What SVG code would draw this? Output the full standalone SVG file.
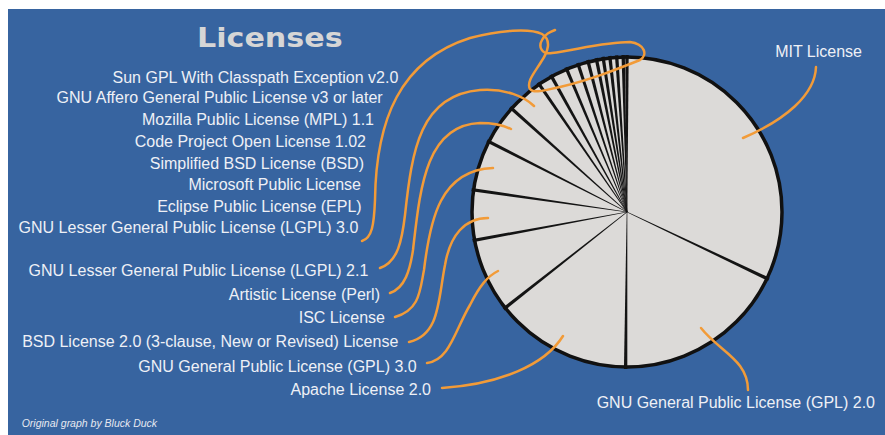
<svg xmlns="http://www.w3.org/2000/svg" xmlns:xlink="http://www.w3.org/1999/xlink" width="885" height="435" viewBox="0 0 885 435">
<style>
.lbl{font-family:"Liberation Sans",Arial,sans-serif;font-size:16px;fill:#eef0f6;text-anchor:end}
.lead{fill:none;stroke:#f29b38;stroke-width:2.5;stroke-linecap:round;stroke-linejoin:round}
.div{fill:#141414}
</style>
<defs>
<polygon id="dv" points="-0.3,0 0.3,0 1.7,-157 -1.7,-157"/>
</defs>
<rect x="0" y="0" width="885" height="435" fill="#ffffff"/>
<rect x="8" y="9" width="877" height="426" fill="#3764a0"/>
<text transform="translate(197,47.3) scale(1.16,1)" x="0" y="0" font-family="DejaVu Sans,sans-serif" font-weight="bold" font-size="26" fill="#d6d6d6">Licenses</text>
<g id="pie">
<circle cx="627" cy="212" r="155" fill="#dcdad8"/>
<g class="div">
<use xlink:href="#dv" transform="translate(627,212) rotate(0)"/>
<use xlink:href="#dv" transform="translate(627,212) rotate(115.4)"/>
<use xlink:href="#dv" transform="translate(627,212) rotate(180.5)"/>
<use xlink:href="#dv" transform="translate(627,212) rotate(231.8)"/>
<use xlink:href="#dv" transform="translate(627,212) rotate(259.5)"/>
<use xlink:href="#dv" transform="translate(627,212) rotate(278.2)"/>
<use xlink:href="#dv" transform="translate(627,212) rotate(297)"/>
<use xlink:href="#dv" transform="translate(627,212) rotate(311.9)"/>
<use xlink:href="#dv" transform="translate(627,212) rotate(325.5)"/>
<use xlink:href="#dv" transform="translate(627,212) rotate(330.9)"/>
<use xlink:href="#dv" transform="translate(627,212) rotate(337.1)"/>
<use xlink:href="#dv" transform="translate(627,212) rotate(341.7)"/>
<use xlink:href="#dv" transform="translate(627,212) rotate(345.5)"/>
<use xlink:href="#dv" transform="translate(627,212) rotate(348.7)"/>
<use xlink:href="#dv" transform="translate(627,212) rotate(351.2)"/>
<use xlink:href="#dv" transform="translate(627,212) rotate(353.7)"/>
<use xlink:href="#dv" transform="translate(627,212) rotate(356.2)"/>
<use xlink:href="#dv" transform="translate(627,212) rotate(358.6)"/>
</g>
<circle cx="627" cy="212" r="155" fill="none" stroke="#111" stroke-width="3.5"/>
</g>
<g id="connectors">
<path class="lead" d="M816,67 C815,95 785,120 743,138"/>
<path class="lead" d="M701,328 C720,352 748,360 748,390"/>
<path class="lead" d="M442,388 C500,384 545,365 563,336"/>
<path class="lead" d="M427,363 C450,360 455,330 470,305 C480,285 488,276 498,271"/>
<path class="lead" d="M409,342 C440,335 438,300 445,265 C450,235 465,218 488,218"/>
<path class="lead" d="M395,317 C420,310 420,290 424,270 C430,220 440,170 493,168"/>
<path class="lead" d="M390,293 C405,288 410,270 413,250 C420,190 425,125 480,123 C495,123 505,126 511,129"/>
<path class="lead" d="M380,268 C398,262 402,240 405,215 C412,150 420,95 480,90 C505,88 525,97 534,106"/>
<path class="lead" d="M362,241 C372,238 374,225 375,200 C376,120 400,60 470,38 C500,30 530,28 542,34 C552,40 548,52 541,62 C535,72 526,82 530,89 C534,94 545,90 560,87 C590,80 615,70 640,60 C648,55 645,44 630,42 C605,42 575,50 552,53 C542,55 538,47 542,40 C545,34 550,32 555,30"/>
</g>
<g id="l-mit"><text class="lbl" x="862" y="56.7">MIT License</text></g>
<g id="l-gpl2"><text class="lbl" x="875" y="408.3">GNU General Public License (GPL) 2.0</text></g>
<g id="l-sun"><text class="lbl" x="398.3" y="82.5">Sun GPL With Classpath Exception v2.0</text></g>
<g id="l-affero"><text class="lbl" x="382.7" y="103.3">GNU Affero General Public License v3 or later</text></g>
<g id="l-mpl"><text class="lbl" x="374" y="125">Mozilla Public License (MPL) 1.1</text></g>
<g id="l-cpol"><text class="lbl" x="366" y="146.7">Code Project Open License 1.02</text></g>
<g id="l-sbsd"><text class="lbl" x="364" y="169">Simplified BSD License (BSD)</text></g>
<g id="l-mspl"><text class="lbl" x="361" y="190">Microsoft Public License</text></g>
<g id="l-epl"><text class="lbl" x="361.7" y="211.7">Eclipse Public License (EPL)</text></g>
<g id="l-lgpl3"><text class="lbl" x="358.3" y="232.7">GNU Lesser General Public License (LGPL) 3.0</text></g>
<g id="l-lgpl21"><text class="lbl" x="368.3" y="275.7">GNU Lesser General Public License (LGPL) 2.1</text></g>
<g id="l-artistic"><text class="lbl" x="380" y="300">Artistic License (Perl)</text></g>
<g id="l-isc"><text class="lbl" x="385" y="323.3">ISC License</text></g>
<g id="l-bsd2"><text class="lbl" x="398.3" y="347.3">BSD License 2.0 (3-clause, New or Revised) License</text></g>
<g id="l-gpl3"><text class="lbl" x="416.7" y="371.7">GNU General Public License (GPL) 3.0</text></g>
<g id="l-apache"><text class="lbl" x="431" y="395">Apache License 2.0</text></g>
<text x="21.7" y="427" font-family="Liberation Sans,Arial,sans-serif" font-style="italic" font-size="10.5" fill="#e6e8f0">Original graph by Bluck Duck</text>
</svg>
